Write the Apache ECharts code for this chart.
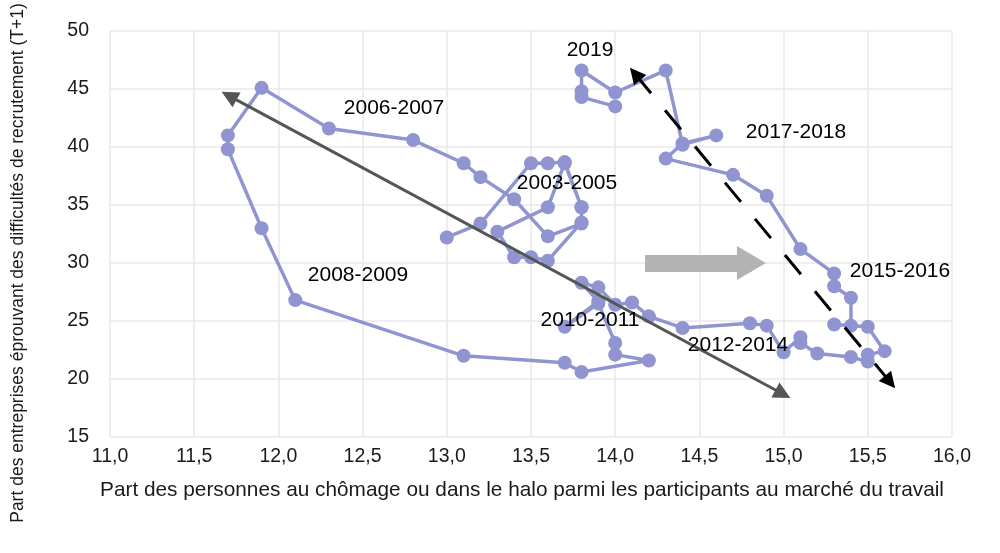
<!DOCTYPE html>
<html>
<head>
<meta charset="utf-8">
<script src="https://cdn.jsdelivr.net/npm/echarts@6/dist/echarts.min.js"></script>
<style>html,body{margin:0;padding:0;background:#fff}#c{width:1000px;height:553px}</style>
</head>
<body>
<div id="c"></div>
<script>
// Part des personnes au chômage ou dans le halo (x) et part des entreprises éprouvant des difficultés de recrutement (y), dans l'ordre chronologique
const halo = [13.0,13.2,13.5,13.6,13.7,13.8,13.8,13.6,13.5,13.4,13.3,13.6,13.7,13.8,13.8,
  13.6,13.4,13.2,13.1,12.8,12.3,11.9,11.7,11.7,11.9,12.1,13.1,13.7,13.8,14.2,14.0,14.0,
  13.9,13.7,13.9,13.8,13.9,14.0,14.1,14.2,14.4,14.8,14.9,15.0,15.1,15.1,15.2,15.4,15.5,15.5,15.6,15.5,15.3,15.4,
  15.4,15.3,15.3,15.1,14.9,14.7,14.3,14.4,14.6,14.4,14.3,14.0,13.8,13.8,13.8,14.0];
const difficultes = [32.2,33.4,38.6,38.6,38.7,34.8,33.5,30.2,30.5,30.5,32.7,34.8,38.6,34.8,33.4,
  32.3,35.5,37.4,38.6,40.6,41.6,45.1,41.0,39.8,33.0,26.8,22.0,21.4,20.6,21.6,22.1,23.1,
  26.5,24.5,26.7,28.3,27.9,26.4,26.6,25.4,24.4,24.8,24.6,22.3,23.6,23.1,22.2,21.9,21.5,22.1,22.4,24.5,24.7,24.6,
  27.0,28.0,29.1,31.2,35.8,37.6,39.0,40.3,41.0,40.2,46.6,44.7,46.6,44.8,44.3,43.5];
const xTicks = {min: 11, max: 16, interval: 0.5};
const yTicks = {min: 15, max: 50, interval: 5};
const periodLabels = ['2003-2005','2006-2007','2008-2009','2010-2011','2012-2014','2015-2016','2017-2018','2019'];
// Flèches (extrémités en coordonnées des axes)
const arrowGrey = [[11.707,44.41],[14.996,18.71]];
const arrowDashed = [[14.118,46.29],[15.632,19.74]];
const arrowBlock = [[14.177,30.0],[14.809,30.0]];

const points = halo.map((x,i)=>[x, difficultes[i]]);
const font = 'Liberation Sans, Arial, Helvetica, sans-serif';
const chart = echarts.init(document.getElementById('c'), null, {renderer:'canvas'});

const labelPos = [[567,183],[394,108],[358,275],[590,320],[738,345],[900,271],[796,132],[590,50]];

chart.setOption({
  animation: false,
  grid: {left: 110, right: 48, top: 31, bottom: 116},
  xAxis: {
    type: 'value', min: xTicks.min, max: xTicks.max, interval: xTicks.interval,
    axisLine: {show: false}, axisTick: {show: false},
    splitLine: {show: true, lineStyle: {color: '#e9e9e9', width: 1.5}},
    axisLabel: {margin: 10, color: '#1a1a1a', fontSize: 19.5, fontFamily: font,
      formatter: v => v.toFixed(1).replace('.', ',')}
  },
  yAxis: {
    type: 'value', min: yTicks.min, max: yTicks.max, interval: yTicks.interval,
    axisLine: {show: false}, axisTick: {show: false},
    splitLine: {show: true, lineStyle: {color: '#e9e9e9', width: 1.5}},
    axisLabel: {margin: 21, color: '#1a1a1a', fontSize: 19.5, fontFamily: font}
  },
  graphic: [
    {type: 'text', x: 522, y: 490, style: {text: 'Part des personnes au chômage ou dans le halo parmi les participants au marché du travail', font: '20.8px ' + font, fill: '#1a1a1a', align: 'center', verticalAlign: 'middle'}},
    {type: 'text', x: 9, y: 263, rotation: Math.PI/2, style: {text: 'Part des entreprises éprouvant des difficultés de recrutement (T+1)', font: '17.5px ' + font, fill: '#1a1a1a', align: 'center', verticalAlign: 'top'}}
  ].concat(periodLabels.map((t,i)=>({type:'text', x: labelPos[i][0], y: labelPos[i][1], z: 50,
    style: {text: t, font: '21px ' + font, fill: '#000', align: 'center', verticalAlign: 'middle'}}))),
  series: [
    {
      type: 'line', data: points, symbol: 'circle', symbolSize: 14, showSymbol: true,
      itemStyle: {color: '#9094d0'}, lineStyle: {color: '#9094d0', width: 3.5},
      emphasis: {disabled: true}, z: 2
    },
    {
      type: 'line', data: [], z: 3,
      markLine: {silent: true, animation: false, label: {show: false},
        symbol: ['triangle','triangle'], symbolSize: 17,
        lineStyle: {color: '#555', width: 3, type: 'solid'},
        data: [[{coord: arrowGrey[0]}, {coord: arrowGrey[1]}]]}
    },
    {
      type: 'line', data: [], z: 3,
      markLine: {silent: true, animation: false, label: {show: false},
        symbol: ['triangle','triangle'], symbolSize: 16,
        lineStyle: {color: '#000', width: 3, type: [25, 22]},
        data: [[{coord: arrowDashed[0]}, {coord: arrowDashed[1]}]]}
    },
    {
      type: 'line', data: [], z: 1,
      markLine: {silent: true, animation: false, label: {show: false},
        symbol: ['none','triangle'], symbolSize: [1, 30],
        lineStyle: {color: '#b3b3b3', width: 17, type: 'solid', cap: 'butt'},
        data: [[{coord: arrowBlock[0], symbol: 'none'}, {coord: arrowBlock[1], symbol: 'triangle', symbolSize: [34, 29]}]]}
    }
  ]
});
</script>
</body>
</html>
